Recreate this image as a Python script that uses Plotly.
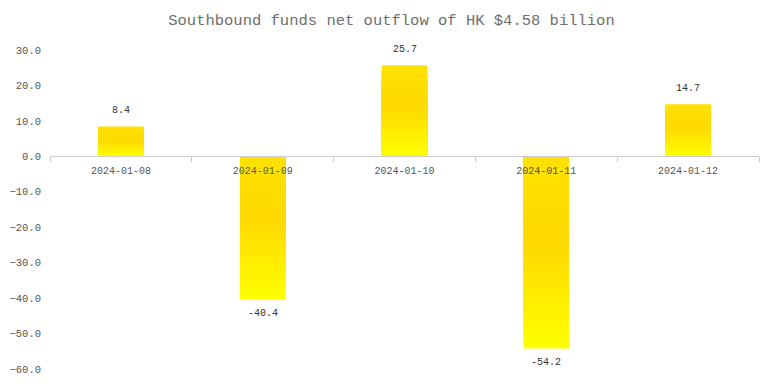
import plotly.graph_objects as go

dates = ["2024-01-08", "2024-01-09", "2024-01-10", "2024-01-11", "2024-01-12"]
values = [8.4, -40.4, 25.7, -54.2, 14.7]
title_text = "Southbound funds net outflow of HK $4.58 billion"

FONT = "Liberation Mono, DejaVu Sans Mono, monospace"

# gradient stops (t=0 top of bar on screen, t=1 bottom)
stops = [(0.0, (255, 226, 0)), (0.45, (255, 217, 0)), (1.0, (255, 255, 0))]


def grad(t):
    t = max(0.0, min(1.0, t))
    for (t0, c0), (t1, c1) in zip(stops[:-1], stops[1:]):
        if t <= t1:
            u = (t - t0) / (t1 - t0) if t1 > t0 else 0
            c = [round(a + (b - a) * u) for a, b in zip(c0, c1)]
            return "rgb(%d,%d,%d)" % tuple(c)
    return "rgb(%d,%d,%d)" % stops[-1][1]


N = 40
fig = go.Figure()
for k in range(N):
    f = (N - k) / N
    ys = [v * f for v in values]
    cols = []
    for v in values:
        t = (1 - f + 0.5 / N) if v >= 0 else (f - 0.5 / N)
        cols.append(grad(t))
    fig.add_trace(go.Bar(
        x=dates, y=ys, width=0.32,
        marker=dict(color=cols, line=dict(width=0)),
        hoverinfo="skip",
        showlegend=False,
    ))

for d, v in zip(dates, values):
    fig.add_annotation(
        x=d, y=v, text="%.1f" % v, showarrow=False,
        xanchor="center", yanchor="middle",
        yshift=16 if v >= 0 else -14,
        font=dict(family=FONT, size=10, color="#333333"),
    )

fig.update_layout(
    width=767, height=376,
    barmode="overlay",
    plot_bgcolor="white", paper_bgcolor="white",
    margin=dict(l=42, r=16, t=42, b=15, autoexpand=False),
    title=dict(text=title_text, x=0.5, xanchor="center", y=0.968, yanchor="middle",
               font=dict(family=FONT, size=15.5, color="#6e6e6e")),
    showlegend=False,
    xaxis=dict(
        type="category", anchor="free", position=60 / 90, automargin=False,
        showline=True, linecolor="#cccccc", linewidth=1,
        ticks="outside", tickson="boundaries", ticklen=5, tickcolor="#cccccc",
        ticklabelstandoff=5,
        showgrid=False, zeroline=False,
        tickfont=dict(family=FONT, size=10, color="#555555"),
    ),
    yaxis=dict(
        range=[-60, 30], dtick=10, tickformat=".1f", automargin=False,
        showgrid=False, zeroline=False, showline=False, ticks="",
        ticklabelstandoff=8,
        tickfont=dict(family=FONT, size=10.5, color="#555555"),
    ),
)

fig.write_html("out.html")
